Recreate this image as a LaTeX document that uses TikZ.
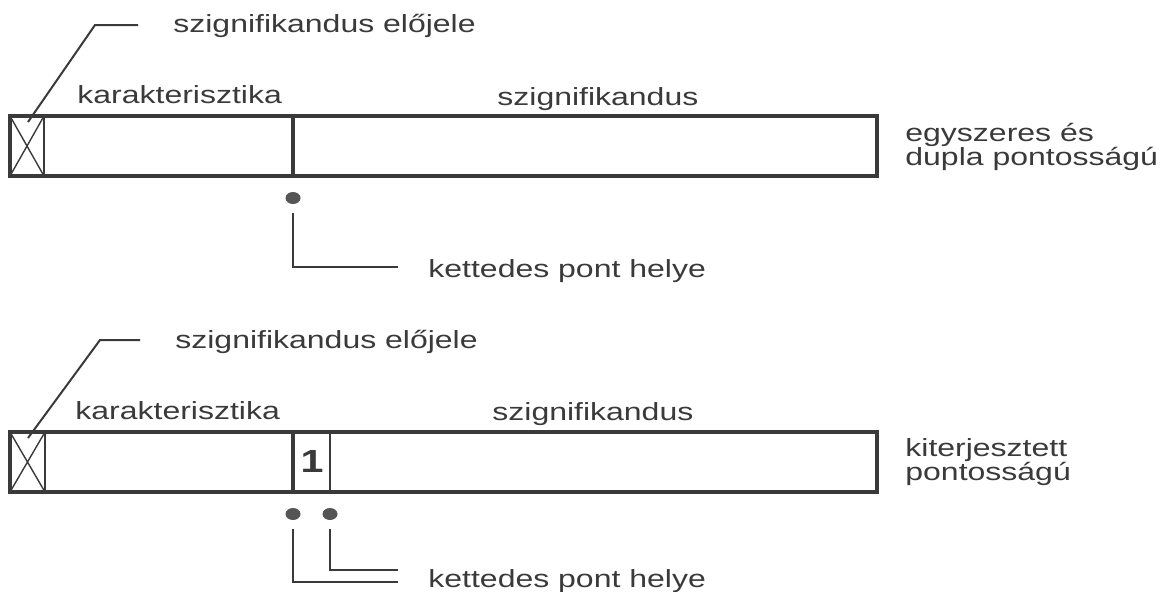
\documentclass[tikz,border=0pt]{standalone}
\usepackage{fontspec}
\setmainfont[FakeStretch=1.29]{Liberation Sans}
\usetikzlibrary{shapes.geometric}
\definecolor{ink}{HTML}{3A3A3A}
\definecolor{dotgrey}{HTML}{555555}
\begin{document}
\begin{tikzpicture}[x=0.5pt, y=-0.5pt,
  lbl/.style={anchor=base west, inner sep=0, text=ink, font=\fontsize{12.4}{15}\selectfont},
  bar/.style={draw=ink, line width=2pt},
  lead/.style={draw=ink, line width=1pt},
  dot/.style={ellipse, fill=dotgrey, inner sep=0, minimum width=7.5pt, minimum height=6pt}]
  \useasboundingbox (0,0) rectangle (1165,591);

  % single and double precision
  \draw[bar] (10,116) rectangle (877,176);
  \draw[draw=ink, line width=1.2pt] (44,116) -- (44,176);
  \draw[draw=ink, line width=0.7pt] (10,116) -- (44,176) (10,176) -- (44,116);
  \draw[bar] (293,116) -- (293,176);
  \node[lbl] (signA) at (173,32) {szignifikandus előjele};
  \node[lbl] (charA) at (77,103) {karakterisztika};
  \node[lbl] (mantA) at (497,105) {szignifikandus};
  \node[lbl] (fmtA1) at (905,141) {egyszeres és};
  \node[lbl] (fmtA2) at (905,165) {dupla pontosságú};
  \node[dot] (dotA) at (293,198) {};
  \node[lbl] (pointA) at (428,277) {kettedes pont helye};

  \coordinate (sA) at (28,122);
  \coordinate (sA') at (138,25);
  \draw[lead] (sA) -- (95,25) -- (sA');
  \coordinate (pA) at (398,267);
  \draw[lead] ([yshift=-4.5pt]dotA.south) |- (pA);

  % extended precision
  \draw[bar] (10,432) rectangle (877,492);
  \draw[draw=ink, line width=1.2pt] (45,432) -- (45,492);
  \draw[draw=ink, line width=0.7pt] (10,432) -- (45,492) (10,492) -- (45,432);
  \draw[bar] (293,432) -- (293,492);
  \draw[draw=ink, line width=1.3pt] (330,432) -- (330,492);
  \node[text=ink, font=\fontsize{16}{19}\bfseries] (one) at (312,461) {1};
  \node[lbl] (signB) at (175,348) {szignifikandus előjele};
  \node[lbl] (charB) at (75,419) {karakterisztika};
  \node[lbl] (mantB) at (492,420) {szignifikandus};
  \node[lbl] (fmtB1) at (905,456) {kiterjesztett};
  \node[lbl] (fmtB2) at (905,480) {pontosságú};
  \node[dot] (dotB1) at (293,514) {};
  \node[dot] (dotB2) at (330,514) {};
  \node[lbl] (pointB) at (428,587) {kettedes pont helye};

  \coordinate (sB) at (28,438);
  \coordinate (sB') at (140,340);
  \draw[lead] (sB) -- (100,340) -- (sB');
  \coordinate (pB1) at (398,582);
  \coordinate (pB2) at (398,570);
  \draw[lead] ([yshift=-4.5pt]dotB1.south) |- (pB1);
  \draw[lead] ([yshift=-4.5pt]dotB2.south) |- (pB2);
\end{tikzpicture}
\end{document}
